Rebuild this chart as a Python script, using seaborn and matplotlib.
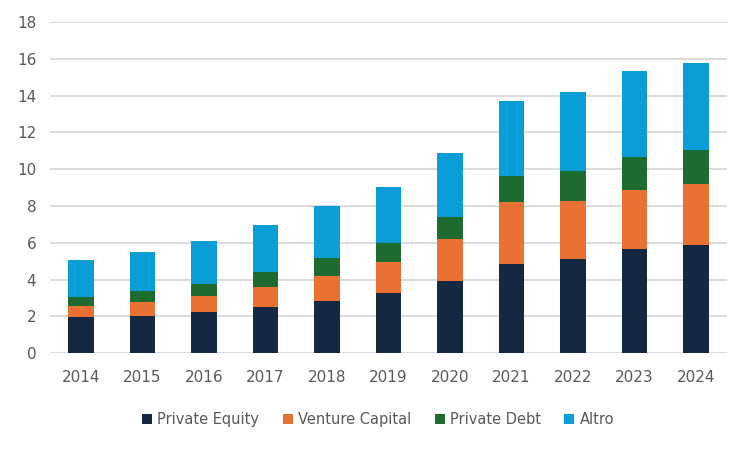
import matplotlib
matplotlib.use("Agg")
import matplotlib.pyplot as plt
from matplotlib.patches import Patch
import seaborn as sns
import pandas as pd
import numpy as np

years = ["2014", "2015", "2016", "2017", "2018", "2019", "2020", "2021", "2022", "2023", "2024"]
private_equity = [1.99, 2.05, 2.25, 2.52, 2.84, 3.28, 3.93, 4.86, 5.13, 5.67, 5.89]
venture_capital = [0.60, 0.74, 0.87, 1.09, 1.36, 1.68, 2.28, 3.36, 3.15, 3.21, 3.31]
private_debt = [0.49, 0.60, 0.65, 0.81, 0.98, 1.04, 1.20, 1.42, 1.63, 1.79, 1.85]
altro = [1.99, 2.12, 2.34, 2.55, 2.83, 3.04, 3.48, 4.07, 4.29, 4.67, 4.73]

series = ["Private Equity", "Venture Capital", "Private Debt", "Altro"]
colors = ["#152842", "#E97132", "#1D6B2F", "#0B9DD6"]

sns.set_style("white")
plt.rcParams["font.family"] = ["DejaVu Sans"]

df = pd.DataFrame({"year": years, "Private Equity": private_equity,
                   "Venture Capital": venture_capital,
                   "Private Debt": private_debt, "Altro": altro})
cum = df[series].cumsum(axis=1)

fig = plt.figure(figsize=(7.5, 4.5), dpi=100)
ax = fig.add_axes([0.067, 0.215, 0.902, 0.736])

# stacked bars: draw cumulative totals from top series down
for name, col in reversed(list(zip(series, colors))):
    sns.barplot(x=df["year"], y=cum[name], color=col, width=0.41,
                saturation=1, linewidth=0, edgecolor="none", ax=ax, zorder=3)

ax.set_ylim(0, 18)
ax.set_xlim(-0.5, 10.5)
ax.set_yticks(np.arange(0, 19, 2))
ax.yaxis.grid(True, color="#D9D9D9", linewidth=1.3, zorder=0)
ax.set_axisbelow(True)
for s in ax.spines.values():
    s.set_visible(False)
ax.set_xlabel("")
ax.set_ylabel("")
ax.tick_params(axis="both", length=0, labelsize=11, labelcolor="#595959")
ax.tick_params(axis="x", pad=12)
ax.tick_params(axis="y", pad=10)

handles = [Patch(facecolor=c, edgecolor="none", label=n) for n, c in zip(series, colors)]
fig.legend(handles=handles, loc="center", bbox_to_anchor=(0.504, 0.067), ncol=4,
           frameon=False, fontsize=10.5, labelcolor="#595959", handlelength=0.7,
           handleheight=0.7, handletextpad=0.35, columnspacing=1.6)

fig.savefig("out.png", dpi=100)
